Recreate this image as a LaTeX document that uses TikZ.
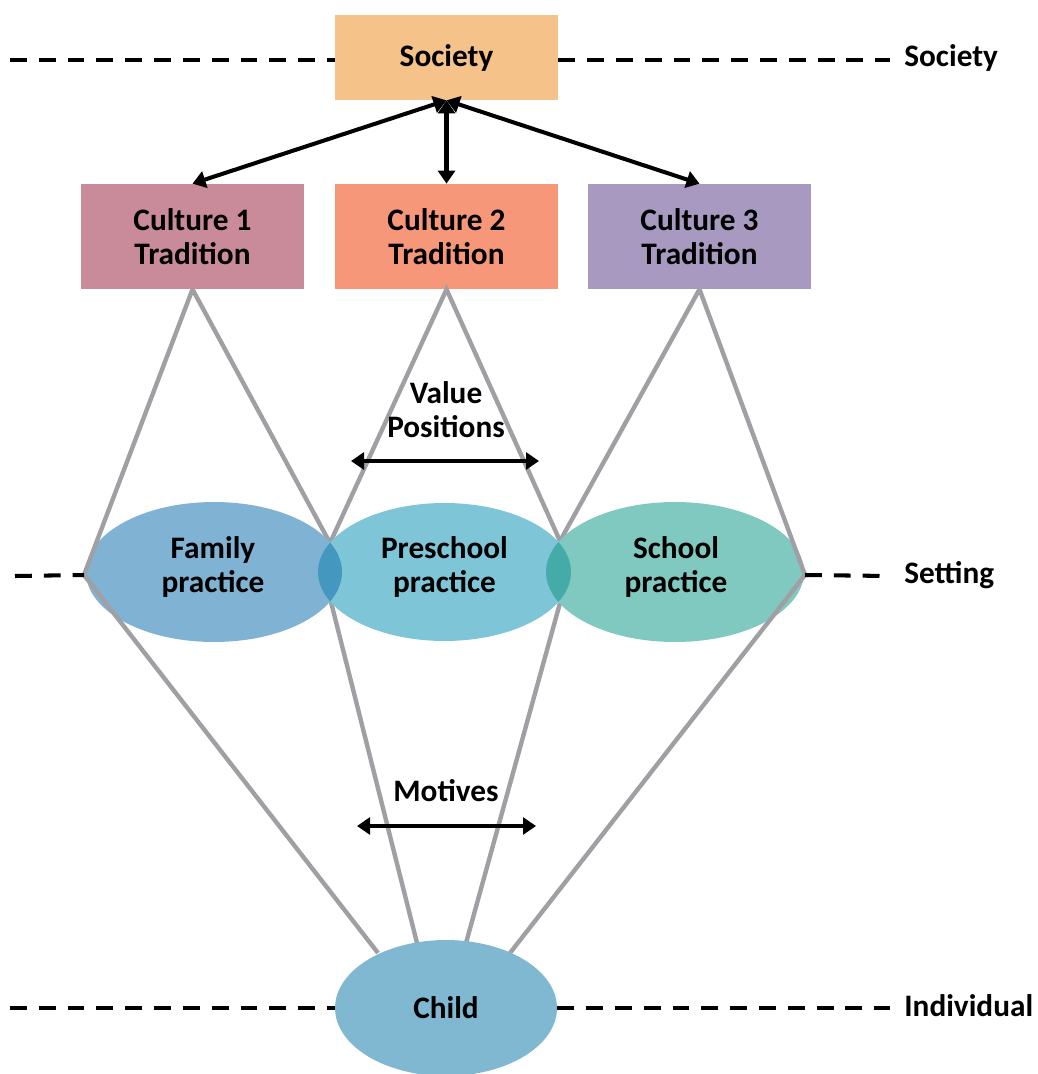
\documentclass[tikz,border=0pt]{standalone}
\usepackage{fontspec}
\setmainfont{Carlito}
\usetikzlibrary{arrows.meta,shapes.geometric}
\definecolor{socC}{HTML}{F5C38A}
\definecolor{cuA}{HTML}{C98A99}
\definecolor{cuB}{HTML}{F7977A}
\definecolor{cuC}{HTML}{A899C1}
\definecolor{famC}{HTML}{7FB2D3}
\definecolor{preC}{HTML}{7EC5D7}
\definecolor{schC}{HTML}{80C9C1}
\definecolor{ovA}{HTML}{4497BF}
\definecolor{ovB}{HTML}{45ABA8}
\definecolor{chC}{HTML}{80B8D1}
\definecolor{gryC}{HTML}{A0A0A4}
\tikzset{
  txt/.style={font=\fontsize{17.8}{19.5}\selectfont\bfseries, align=center, text=black},
  boxnode/.style={txt, rectangle, inner sep=0pt, minimum width=4.46cm, minimum height=2.1cm},
  ellnode/.style={txt, ellipse, inner sep=0pt},
  gryline/.style={draw=gryC, line width=2.5pt, line join=miter},
  dashline/.style={draw=black, line width=2.3pt, dash pattern=on 9.6pt off 6.8pt},
  arr/.style={draw=black, line width=2.3pt, {Triangle[length=7.4pt,width=9.6pt]}-{Triangle[length=7.4pt,width=9.6pt]}},
  lvl/.style={txt, anchor=west, inner sep=0pt}
}
\begin{document}
\begin{tikzpicture}[x=0.02cm,y=-0.02cm]
\useasboundingbox (0,0) rectangle (1037,1074);
% boxes
\node[boxnode, fill=socC, minimum height=1.7cm] (soc) at (446.5,57.5) {Society};
\node[boxnode, fill=cuA] (c1) at (192.5,236.5) {Culture 1\\Tradition};
\node[boxnode, fill=cuB] (c2) at (446.5,236.5) {Culture 2\\Tradition};
\node[boxnode, fill=cuC] (c3) at (699.5,236.5) {Culture 3\\Tradition};
% coordinates
\coordinate (famW) at (84,575);
\coordinate (topL) at (330,543);
\coordinate (topR) at (560,541);
\coordinate (schE) at (805,575);
\coordinate (botL) at (331,602);
\coordinate (botR) at (560,603);
\coordinate (chA) at (378,953);
\coordinate (chB) at (417,943);
\coordinate (chC) at (466,943);
\coordinate (chD) at (510,953);
% inner grey lines
\draw[gryline] (topL) -- (c1.south);
\draw[gryline] (topL) -- (c2.south) -- (topR);
\draw[gryline] (topR) -- (c3.south);
\draw[gryline] (botL) -- (chB);
\draw[gryline] (botR) -- (chC);
% ellipses
\node[ellnode, fill=famC, minimum width=5.12cm, minimum height=2.8cm] (fam) at (214,572) {};
\node[ellnode, fill=preC, minimum width=5.06cm, minimum height=2.76cm] (pre) at (444.5,572) {};
\node[ellnode, fill=schC, minimum width=5.16cm, minimum height=2.8cm] (sch) at (675,572) {};
\begin{scope}
  \clip (214,572) ellipse [x radius=2.56cm, y radius=1.4cm];
  \fill[ovA] (444.5,572) ellipse [x radius=2.53cm, y radius=1.38cm];
\end{scope}
\begin{scope}
  \clip (675,572) ellipse [x radius=2.58cm, y radius=1.4cm];
  \fill[ovB] (444.5,572) ellipse [x radius=2.53cm, y radius=1.38cm];
\end{scope}
% outer grey lines (on top of ellipses)
\draw[gryline] (c1.south) -- (famW) -- (chA);
\draw[gryline] (c3.south) -- (schE) -- (chD);
\node[txt] at (213,567) {Family\\practice};
\node[txt] at (444.5,567) {Preschool\\practice};
\node[txt] at (676,567) {School\\practice};
\node[ellnode, fill=chC, minimum width=4.44cm, minimum height=2.72cm] (child) at (446,1008) {Child};
% arrows
\draw[arr] (soc.south) -- (c1.north);
\draw[arr] (soc.south) -- (c2.north);
\draw[arr] (soc.south) -- (c3.north);
\node[txt] (vp) at (446,410) {Value\\Positions};
\coordinate (vpL) at (351,461);
\coordinate (vpR) at (539,461);
\draw[arr] (vpL) -- (vpR);
\node[txt] (mot) at (446,791) {Motives};
\coordinate (moL) at (357,826);
\coordinate (moR) at (536,826);
\draw[arr] (moL) -- (moR);
% dashed level lines
\coordinate (d1a) at (10,60);
\coordinate (d1b) at (890,60);
\coordinate (d2a) at (15,576);
\coordinate (d2b) at (890,576);
\coordinate (d3a) at (10,1008);
\coordinate (d3b) at (890,1008);
\draw[dashline] (d1a) -- (soc.west |- d1a);
\draw[dashline] (soc.east |- d1b) -- (d1b);
\draw[dashline] (d2a) -- (famW);
\draw[dashline] (schE) -- (d2b);
\draw[dashline] (d3a) -- (child.west);
\draw[dashline] (child.east) -- (d3b);
\node[lvl] (lsoc) at (904,58) {Society};
\node[lvl] (lset) at (904,575) {Setting};
\node[lvl] (lind) at (904,1006) {Individual};
\end{tikzpicture}
\end{document}
